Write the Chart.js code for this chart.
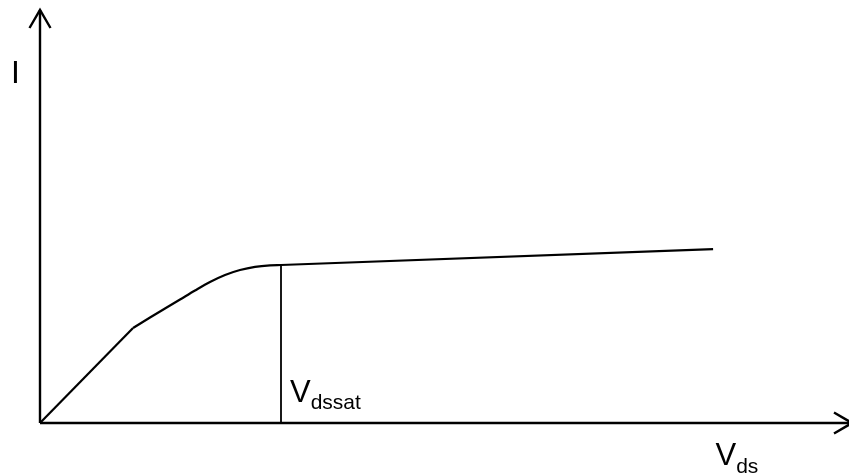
<!DOCTYPE html>
<html>
<head>
<meta charset="utf-8">
<script src="https://cdn.jsdelivr.net/npm/chart.js@4/dist/chart.umd.min.js"></script>
<style>
  html, body { margin: 0; padding: 0; background: #ffffff; }
  #wrap { width: 849px; height: 476px; }
</style>
</head>
<body>
<div id="wrap"><canvas id="c" width="849" height="476"></canvas></div>
<script>
// Values (arbitrary units, axes span 0..10)
const linearVds = [0, 1.150];
const linearI   = [0, 2.300];
const kneeVds = [1.150, 1.360, 1.545, 1.731, 1.916, 2.101, 2.287, 2.472, 2.658, 2.843, 2.979];
const kneeI   = [2.300, 2.554, 2.772, 2.990, 3.208, 3.414, 3.584, 3.705, 3.782, 3.818, 3.826];
const satVds = [2.979, 8.320];
const satI   = [3.826, 4.210];
const vdssat = 2.979;
const vdssatI = 3.826;
const labels = { yAxis: "I", xAxis: ["V", "ds"], knee: ["V", "dssat"] };

const toPts = (xs, ys) => xs.map((x, i) => ({ x: x, y: ys[i] }));

const FONT = "'Liberation Sans', Arial, sans-serif";

function drawArrowHead(ctx, tx, ty, ax1, ay1, ax2, ay2) {
  ctx.beginPath();
  ctx.moveTo(ax1, ay1);
  ctx.lineTo(tx, ty);
  ctx.lineTo(ax2, ay2);
  ctx.stroke();
}

function subText(ctx, x, y, main, sub, mainSize, subSize, drop) {
  ctx.font = mainSize + "px " + FONT;
  ctx.fillText(main, x, y);
  const w = ctx.measureText(main).width;
  ctx.font = subSize + "px " + FONT;
  ctx.fillText(sub, x + w, y + drop);
}

const axesPlugin = {
  id: 'axesArrows',
  beforeDatasetsDraw(chart) {
    const ctx = chart.ctx;
    const xs = chart.scales.x, ys = chart.scales.y;
    const x0 = xs.getPixelForValue(0), y0 = ys.getPixelForValue(0);
    const xEnd = xs.getPixelForValue(10) + 3;
    const yEnd = ys.getPixelForValue(10);
    ctx.save();
    ctx.strokeStyle = '#000';
    ctx.lineWidth = 2.4;
    ctx.lineCap = 'butt';
    ctx.beginPath();
    ctx.moveTo(x0, y0);
    ctx.lineTo(xEnd, y0);
    ctx.moveTo(x0, y0);
    ctx.lineTo(x0, yEnd);
    ctx.stroke();
    ctx.lineJoin = 'miter';
    drawArrowHead(ctx, x0, yEnd, x0 - 10.5, yEnd + 18, x0 + 10.5, yEnd + 18);
    drawArrowHead(ctx, xEnd, y0, xEnd - 18, y0 - 10.5, xEnd - 18, y0 + 10.5);
    ctx.restore();
  },
  afterDatasetsDraw(chart) {
    const ctx = chart.ctx;
    const xs = chart.scales.x, ys = chart.scales.y;
    const x0 = xs.getPixelForValue(0), y0 = ys.getPixelForValue(0);
    ctx.save();
    ctx.fillStyle = '#000';
    ctx.textBaseline = 'alphabetic';
    ctx.textAlign = 'left';
    ctx.font = "32px " + FONT;
    ctx.fillText(labels.yAxis, x0 - 29, 83);
    subText(ctx, xs.getPixelForValue(vdssat) + 9, y0 - 21, labels.knee[0], labels.knee[1], 31, 21, 7);
    subText(ctx, xs.getPixelForValue(8.35), y0 + 42, labels.xAxis[0], labels.xAxis[1], 31, 21, 8);
    ctx.restore();
  }
};

const common = { pointRadius: 0, borderColor: '#000', fill: false, clip: false };

new Chart(document.getElementById('c'), {
  type: 'line',
  data: {
    datasets: [
      Object.assign({ data: toPts(linearVds, linearI), borderWidth: 2.2, tension: 0 }, common),
      Object.assign({ data: toPts(kneeVds, kneeI), borderWidth: 2.2, cubicInterpolationMode: 'monotone' }, common),
      Object.assign({ data: toPts(satVds, satI), borderWidth: 2.2, tension: 0 }, common),
      Object.assign({ data: toPts([vdssat, vdssat], [0, vdssatI]), borderWidth: 1.8, tension: 0 }, common)
    ]
  },
  options: {
    responsive: false,
    animation: false,
    devicePixelRatio: 1,
    layout: { padding: { left: 40, top: 10, right: 0, bottom: 53 } },
    plugins: { legend: { display: false }, tooltip: { enabled: false }, title: { display: false } },
    scales: {
      x: { type: 'linear', min: 0, max: 10, display: false },
      y: { type: 'linear', min: 0, max: 10, display: false }
    }
  },
  plugins: [axesPlugin]
});
</script>
</body>
</html>
